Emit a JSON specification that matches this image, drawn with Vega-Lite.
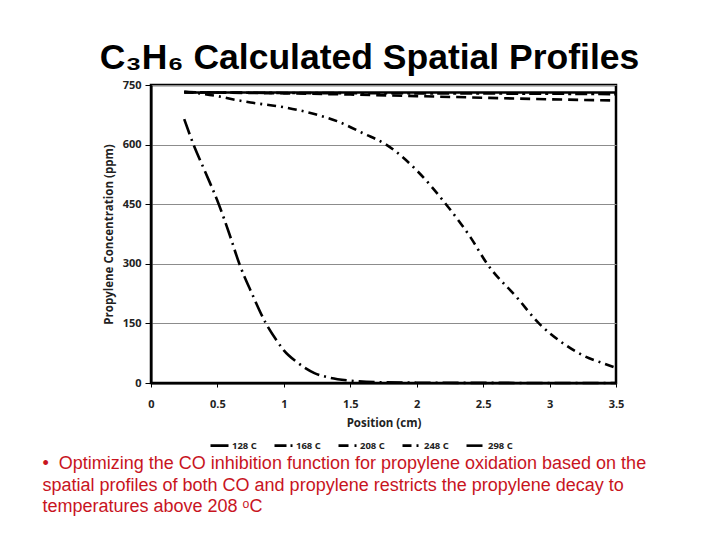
{
  "$schema": "https://vega.github.io/schema/vega-lite/v6.json",
  "background": "white",
  "padding": {"left": 42, "top": 39, "right": 10, "bottom": 10},
  "title": {
    "text": ["• \u00a0Optimizing the CO inhibition function for propylene oxidation based on the", "spatial profiles of both CO and propylene restricts the propylene decay to", "temperatures above 208 ᵒC"],
    "orient": "bottom",
    "anchor": "start",
    "font": "Liberation Sans",
    "fontSize": 18,
    "fontWeight": "normal",
    "color": "#c8141e",
    "lineHeight": 21.5,
    "offset": 4,
    "dx": -56
  },
  "vconcat": [
    {
      "title": {
        "text": "C₃H₆ Calculated Spatial Profiles",
        "font": "Liberation Sans",
        "fontSize": 35.5,
        "fontWeight": "bold",
        "color": "black",
        "anchor": "middle",
        "offset": 3,
        "dx": -14
      },
      "width": 465,
      "height": 298,
      "data": {
        "values": [
          {"series": "128 C", "pos": 0.25, "ppm": 731},
          {"series": "128 C", "pos": 1.0, "ppm": 731},
          {"series": "128 C", "pos": 2.0, "ppm": 731},
          {"series": "128 C", "pos": 3.0, "ppm": 731},
          {"series": "128 C", "pos": 3.5, "ppm": 731},
          {"series": "168 C", "pos": 0.25, "ppm": 732},
          {"series": "168 C", "pos": 1.0, "ppm": 730},
          {"series": "168 C", "pos": 2.0, "ppm": 729},
          {"series": "168 C", "pos": 3.0, "ppm": 728},
          {"series": "168 C", "pos": 3.5, "ppm": 727},
          {"series": "208 C", "pos": 0.25, "ppm": 732},
          {"series": "208 C", "pos": 0.5, "ppm": 731},
          {"series": "208 C", "pos": 1.0, "ppm": 729},
          {"series": "208 C", "pos": 1.5, "ppm": 726},
          {"series": "208 C", "pos": 2.0, "ppm": 722},
          {"series": "208 C", "pos": 2.5, "ppm": 718},
          {"series": "208 C", "pos": 3.0, "ppm": 714},
          {"series": "208 C", "pos": 3.5, "ppm": 711},
          {"series": "248 C", "pos": 0.25, "ppm": 733},
          {"series": "248 C", "pos": 0.5, "ppm": 722},
          {"series": "248 C", "pos": 0.63, "ppm": 713},
          {"series": "248 C", "pos": 0.75, "ppm": 706},
          {"series": "248 C", "pos": 1.0, "ppm": 694},
          {"series": "248 C", "pos": 1.23, "ppm": 677},
          {"series": "248 C", "pos": 1.4, "ppm": 659},
          {"series": "248 C", "pos": 1.6, "ppm": 628},
          {"series": "248 C", "pos": 1.77, "ppm": 600},
          {"series": "248 C", "pos": 2.0, "ppm": 535},
          {"series": "248 C", "pos": 2.22, "ppm": 450},
          {"series": "248 C", "pos": 2.41, "ppm": 364},
          {"series": "248 C", "pos": 2.53, "ppm": 300},
          {"series": "248 C", "pos": 2.76, "ppm": 213},
          {"series": "248 C", "pos": 2.92, "ppm": 150},
          {"series": "248 C", "pos": 3.11, "ppm": 98},
          {"series": "248 C", "pos": 3.26, "ppm": 68},
          {"series": "248 C", "pos": 3.4, "ppm": 50},
          {"series": "248 C", "pos": 3.5, "ppm": 38},
          {"series": "298 C", "pos": 0.25, "ppm": 664},
          {"series": "298 C", "pos": 0.32, "ppm": 600},
          {"series": "298 C", "pos": 0.41, "ppm": 530},
          {"series": "298 C", "pos": 0.51, "ppm": 450},
          {"series": "298 C", "pos": 0.59, "ppm": 375},
          {"series": "298 C", "pos": 0.665, "ppm": 300},
          {"series": "298 C", "pos": 0.76, "ppm": 225},
          {"series": "298 C", "pos": 0.865, "ppm": 150},
          {"series": "298 C", "pos": 0.95, "ppm": 105},
          {"series": "298 C", "pos": 1.0, "ppm": 82},
          {"series": "298 C", "pos": 1.1, "ppm": 52},
          {"series": "298 C", "pos": 1.23, "ppm": 25},
          {"series": "298 C", "pos": 1.35, "ppm": 13},
          {"series": "298 C", "pos": 1.5, "ppm": 6},
          {"series": "298 C", "pos": 1.7, "ppm": 2},
          {"series": "298 C", "pos": 2.0, "ppm": 0.8},
          {"series": "298 C", "pos": 2.5, "ppm": 0.3},
          {"series": "298 C", "pos": 3.0, "ppm": 0.1},
          {"series": "298 C", "pos": 3.5, "ppm": 0}
        ]
      },
      "mark": {"type": "line", "color": "black", "strokeWidth": 2.6, "interpolate": "monotone"},
      "encoding": {
        "x": {
          "field": "pos",
          "type": "quantitative",
          "scale": {"domain": [0, 3.5], "nice": false, "zero": false},
          "axis": {
            "values": [0, 0.5, 1, 1.5, 2, 2.5, 3, 3.5],
            "format": ".1~f",
            "title": "Position (cm)",
            "grid": false,
            "tickSize": 4,
            "labelPadding": 11,
            "titlePadding": 8,
            "labelFlush": false
          }
        },
        "y": {
          "field": "ppm",
          "type": "quantitative",
          "scale": {"domain": [0, 750], "nice": false},
          "axis": {
            "values": [0, 150, 300, 450, 600, 750],
            "title": "Propylene Concentration (ppm)",
            "grid": true,
            "tickSize": 6,
            "labelPadding": 4,
            "titlePadding": 8
          }
        },
        "strokeDash": {
          "field": "series",
          "type": "nominal",
          "scale": {
            "domain": ["128 C", "168 C", "208 C", "248 C", "298 C"],
            "range": [[1, 0], [12, 4, 3, 4], [10, 6], [9, 5, 2, 5], [16, 5, 2, 5]]
          },
          "legend": {
            "orient": "none",
            "legendX": 58,
            "legendY": 350,
            "direction": "horizontal",
            "title": null,
            "symbolType": "stroke",
            "symbolSize": 324,
            "symbolStrokeWidth": 2.6,
            "symbolStrokeColor": "black",
            "labelFont": "Open Sans",
            "labelFontSize": 9.5,
            "labelFontWeight": "bold",
            "labelColor": "#222",
            "labelOffset": 2,
            "columnPadding": 12
          }
        }
      }
    }
  ],
  "config": {
    "view": {"stroke": "black", "strokeWidth": 2.5},
    "axis": {
      "labelFont": "Open Sans",
      "labelFontSize": 11,
      "labelFontWeight": "bold",
      "labelColor": "#222",
      "titleFont": "Open Sans",
      "titleFontSize": 11.5,
      "titleFontWeight": "bold",
      "titleColor": "#222",
      "domainColor": "black",
      "domainWidth": 2,
      "tickColor": "black",
      "gridColor": "#8c8c8c",
      "gridWidth": 1
    }
  }
}
